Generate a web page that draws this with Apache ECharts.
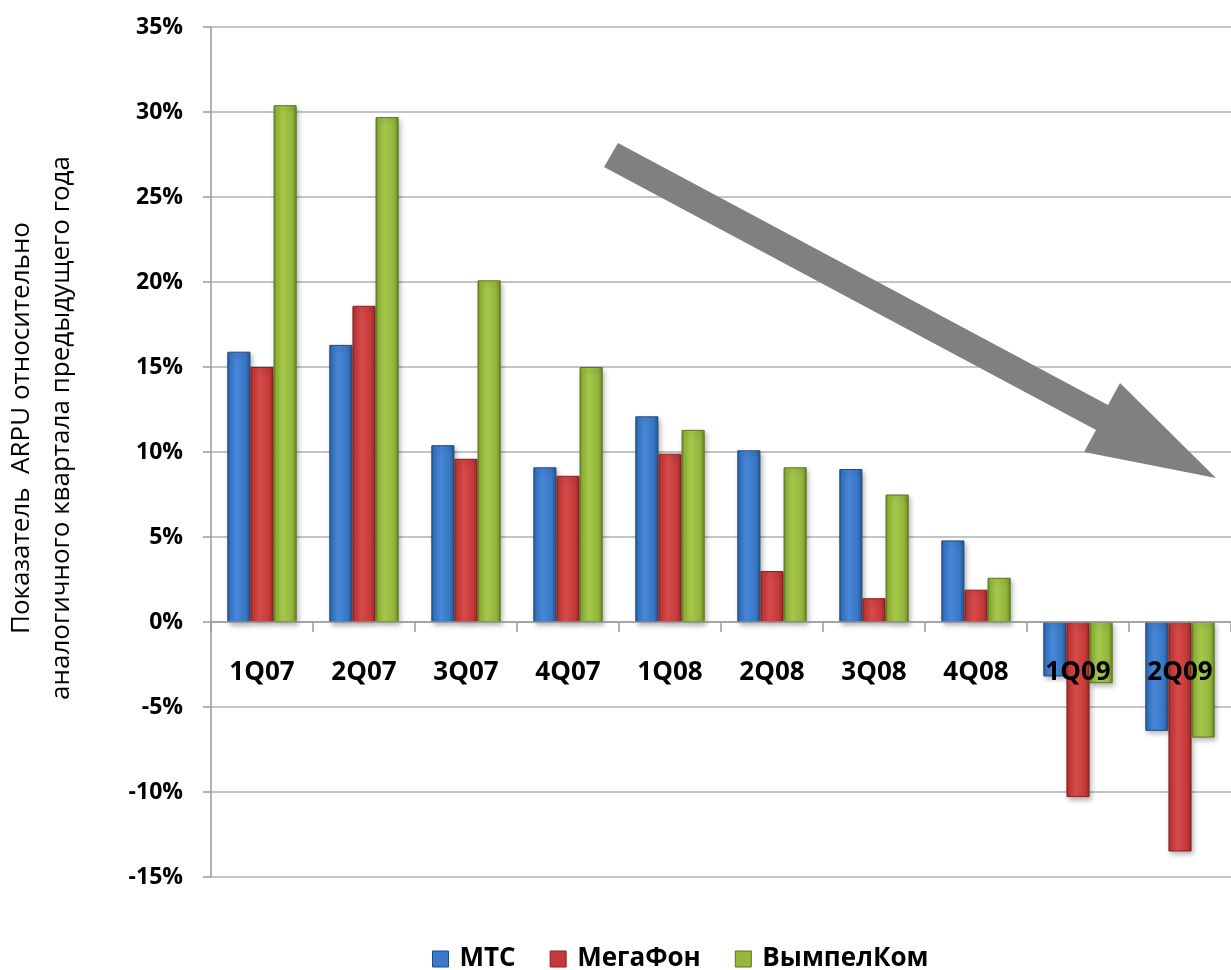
<!DOCTYPE html>
<html>
<head>
<meta charset="utf-8">
<script src="https://cdn.jsdelivr.net/npm/echarts@6/dist/echarts.min.js"></script>
<style>
  html, body { margin: 0; padding: 0; background: #fff; }
  #main { width: 1231px; height: 970px; }
</style>
</head>
<body>
<div id="main"></div>
<script>
var quarters = ['1Q07', '2Q07', '3Q07', '4Q07', '1Q08', '2Q08', '3Q08', '4Q08', '1Q09', '2Q09'];
var mts      = [15.9, 16.3, 10.4, 9.1, 12.1, 10.1, 9.0, 4.8, -3.2, -6.4];
var megafon  = [15.0, 18.6, 9.6, 8.6, 9.9, 3.0, 1.4, 1.9, -10.3, -13.5];
var vympel   = [30.4, 29.7, 20.1, 15.0, 11.3, 9.1, 7.5, 2.6, -3.6, -6.8];
var seriesNames = ['МТС', 'МегаФон', 'ВымпелКом'];

var font = '"Open Sans", "DejaVu Sans", sans-serif';

// объёмная заливка столбика: тёмные края, светлая середина
function barFill(dark, mid, light) {
  return new echarts.graphic.LinearGradient(0, 0, 1, 0, [
    { offset: 0, color: dark },
    { offset: 0.12, color: mid },
    { offset: 0.4, color: light },
    { offset: 0.8, color: mid },
    { offset: 1, color: dark }
  ]);
}

var styles = [
  { fill: barFill('#24568f', '#3877c6', '#4787d6'), border: '#1f4a7e', legend: '#3a7acc' },
  { fill: barFill('#9a2a2a', '#c53a3a', '#d64a4a'), border: '#822222', legend: '#c83a3a' },
  { fill: barFill('#6a8a26', '#93b63a', '#a5c84c'), border: '#5a7520', legend: '#95b83c' }
];

function makeSeries(name, data, st) {
  return {
    name: name,
    type: 'bar',
    data: data,
    barGap: '0%',
    barCategoryGap: '32%',
    itemStyle: {
      color: st.fill,
      borderColor: st.border,
      borderWidth: 1,
      shadowColor: 'rgba(0,0,0,0.3)',
      shadowBlur: 5,
      shadowOffsetX: 2,
      shadowOffsetY: 3
    },
    emphasis: { disabled: true }
  };
}

var chart = echarts.init(document.getElementById('main'));

var option = {
  backgroundColor: '#ffffff',
  animation: false,
  grid: { left: 211, top: 27, width: 1033, bottom: 93, containLabel: false },
  legend: {
    left: 427,
    top: 941,
    itemWidth: 16,
    itemHeight: 16,
    itemGap: 34,
    icon: 'rect',
    textStyle: { fontFamily: font, fontWeight: 'bold', fontSize: 26, color: '#000', padding: [0, 0, 0, 6] },
    data: seriesNames.map(function (n, i) {
      return { name: n, itemStyle: { color: styles[i].legend, borderColor: styles[i].border, borderWidth: 1 } };
    })
  },
  xAxis: [
    {
      type: 'category',
      data: quarters,
      axisLine: { onZero: true, lineStyle: { color: '#9a9a9a', width: 1.5 } },
      axisTick: { show: true, length: 10, lineStyle: { color: '#9a9a9a', width: 1.5 } },
      axisLabel: { show: false },
      z: 10
    },
    {
      // подписи кварталов сразу под нулевой линией
      type: 'category',
      data: quarters,
      position: 'bottom',
      offset: -255,
      axisLine: { show: false },
      axisTick: { show: false },
      axisLabel: { fontFamily: font, fontWeight: 'bold', fontSize: 26, color: '#000', margin: 38 },
      z: 20
    }
  ],
  yAxis: {
    type: 'value',
    min: -15,
    max: 35,
    interval: 5,
    axisLine: { show: true, lineStyle: { color: '#9a9a9a', width: 1.5 } },
    axisTick: { show: true, length: 8, lineStyle: { color: '#9a9a9a', width: 1.5 } },
    splitLine: { lineStyle: { color: '#b0b0b0', width: 1.5 } },
    axisLabel: {
      fontFamily: font, fontWeight: 'bold', fontSize: 23, color: '#000', margin: 28,
      formatter: '{value}%'
    }
  },
  series: [
    makeSeries(seriesNames[0], mts, styles[0]),
    makeSeries(seriesNames[1], megafon, styles[1]),
    makeSeries(seriesNames[2], vympel, styles[2])
  ],
  graphic: [
    {
      type: 'text',
      x: 42,
      y: 428,
      rotation: Math.PI / 2,
      style: {
        text: 'Показатель  ARPU относительно\nаналогичного квартала предыдущего года',
        fontFamily: font,
        fontSize: 26,
        lineHeight: 40,
        fill: '#000',
        align: 'center',
        verticalAlign: 'middle'
      }
    },
    {
      // стрелка-тренд
      type: 'polygon',
      z: 100,
      shape: {
        points: [[618, 143], [1108, 405], [1120, 383], [1216, 478], [1084, 452], [1096, 430], [604, 167]]
      },
      style: { fill: '#808080' }
    }
  ]
};

chart.setOption(option);
window.onresize = function () { chart.resize(); };
</script>
</body>
</html>
